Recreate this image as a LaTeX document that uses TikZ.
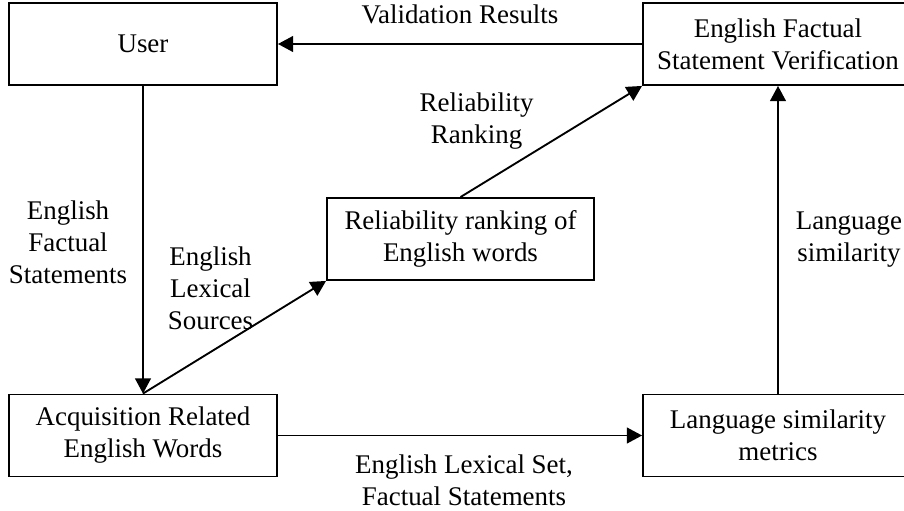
\documentclass[tikz,border=0pt]{standalone}
\usepackage{fontspec}
\setmainfont{Liberation Serif}
\usetikzlibrary{shapes.geometric, arrows.meta}
\tikzstyle{process} = [rectangle, minimum width=8.04cm, minimum height=2.46cm, text centered, align=center, draw=black, line width=1.6pt, font=\fontsize{23}{27.3}\selectfont]
\tikzstyle{wideprocess} = [process, minimum width=8.1cm]
\tikzstyle{edgetext} = [align=center, font=\fontsize{23}{27.3}\selectfont]
\tikzstyle{arrow} = [line width=1.6pt,->,>={Triangle[length=13pt,width=13.5pt]}]

\begin{document}
\begin{tikzpicture}[node distance=3cm] % cajas de 8 cm aprox.

    \useasboundingbox (-4.29,1.32) rectangle (22.83,-14.01);

    \node (user) [process] {User};
    \node (verify) [wideprocess, right of=user, xshift=16.05cm] {English Factual\\Statement Verification};

    \node (ranking) [process, below of=user, xshift=9.525cm, yshift=-2.85cm, minimum width=8.01cm] {Reliability ranking of\\English words};

    \node (acquire) [process, below of=user, yshift=-8.745cm] {Acquisition Related\\English Words};
    \node (similarity) [wideprocess, below of=verify, yshift=-8.745cm] {Language similarity\\metrics};

    % Flechas
    \draw [arrow] (verify) -- node[edgetext, above=0.45cm] {Validation Results} (user);
    \draw [arrow] (user) -- node[edgetext, left=0.33cm, yshift=-0.08cm] {English\\Factual\\Statements} (acquire);
    \draw [arrow] (acquire.north) -- node[edgetext, xshift=-0.72cm, yshift=1.47cm] {English\\Lexical\\Sources} (ranking.south west);
    \draw [arrow] (ranking.north) -- node[edgetext, xshift=-2.24cm, yshift=0.62cm] {Reliability\\Ranking} (verify.south west);
    \draw [arrow] (acquire) -- node[edgetext, below=0.43cm, xshift=0.12cm] {English Lexical Set,\\Factual Statements} (similarity);
    \draw [arrow] (similarity) -- node[edgetext, right=0.39cm] {Language\\similarity} (verify);
    \end{tikzpicture}
\end{document}
